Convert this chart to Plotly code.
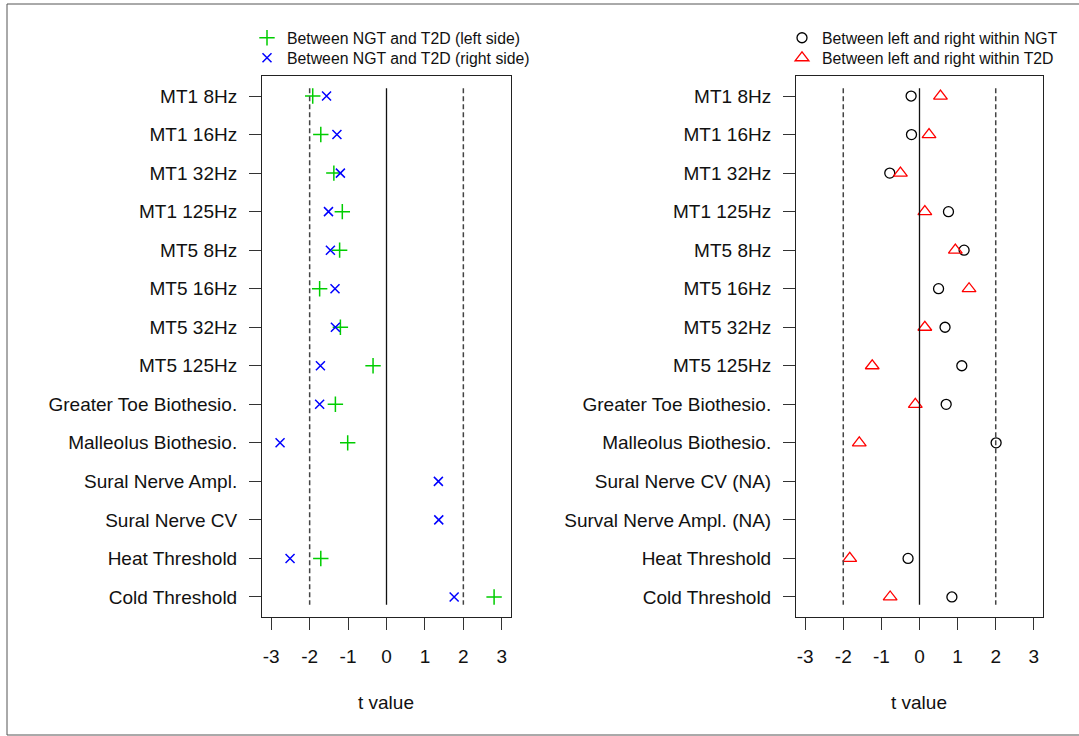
import plotly.graph_objects as go

W, H = 1079, 736

labels_left = ["MT1 8Hz", "MT1 16Hz", "MT1 32Hz", "MT1 125Hz", "MT5 8Hz", "MT5 16Hz",
               "MT5 32Hz", "MT5 125Hz", "Greater Toe Biothesio.", "Malleolus Biothesio.",
               "Sural Nerve Ampl.", "Sural Nerve CV", "Heat Threshold", "Cold Threshold"]
labels_right = ["MT1 8Hz", "MT1 16Hz", "MT1 32Hz", "MT1 125Hz", "MT5 8Hz", "MT5 16Hz",
                "MT5 32Hz", "MT5 125Hz", "Greater Toe Biothesio.", "Malleolus Biothesio.",
                "Sural Nerve CV (NA)", "Surval Nerve Ampl. (NA)", "Heat Threshold", "Cold Threshold"]

t_left_side = [-1.92, -1.71, -1.37, -1.15, -1.22, -1.74, -1.20, -0.35, -1.33, -1.01,
               None, None, -1.71, 2.80]
t_right_side = [-1.56, -1.29, -1.20, -1.51, -1.46, -1.34, -1.33, -1.72, -1.74, -2.77,
                1.35, 1.36, -2.51, 1.76]
t_within_ngt = [-0.22, -0.21, -0.78, 0.76, 1.17, 0.50, 0.67, 1.11, 0.70, 2.01,
                None, None, -0.30, 0.85]
t_within_t2d = [0.55, 0.25, -0.50, 0.14, 0.94, 1.30, 0.14, -1.24, -0.11, -1.58,
                None, None, -1.83, -0.77]

x_ticks = [-3, -2, -1, 0, 1, 2, 3]
x_tick_text = ["-3", "-2", "-1", "0", "1", "2", "3"]
ref_dashed = [-2, 2]
ref_solid = [0]

FONT = "Liberation Sans, Arial, sans-serif"

def px_x(p):
    return p / W

def px_y(p):
    return 1 - p / H

fig = go.Figure()

idx = list(range(len(labels_left)))

fig.add_trace(go.Scatter(x=t_left_side, y=idx, mode="markers", name="Between NGT and T2D (left side)",
                         marker=dict(symbol="cross-thin-open", size=11, color="#00CD00",
                                     line=dict(width=1.5, color="#00CD00")),
                         xaxis="x", yaxis="y", legend="legend"))
fig.add_trace(go.Scatter(x=t_right_side, y=idx, mode="markers", name="Between NGT and T2D (right side)",
                         marker=dict(symbol="x-thin-open", size=9, color="#0000FF",
                                     line=dict(width=1.5, color="#0000FF")),
                         xaxis="x", yaxis="y", legend="legend2"))
fig.add_trace(go.Scatter(x=t_within_ngt, y=idx, mode="markers", name="Between left and right within NGT",
                         marker=dict(symbol="circle-open", size=10, color="#000000",
                                     line=dict(width=1.3, color="#000000")),
                         xaxis="x2", yaxis="y2", legend="legend3"))
fig.add_trace(go.Scatter(x=t_within_t2d, y=idx, mode="markers", name="Between left and right within T2D",
                         marker=dict(symbol="triangle-up-open", size=12, color="#FF0000",
                                     line=dict(width=1.3, color="#FF0000")),
                         xaxis="x2", yaxis="y2", legend="legend4"))

n = len(labels_left)
yr = [n - 1 + 0.52, -0.52]
xr = [-3.24, 3.24]

axis_common = dict(showline=True, mirror=True, linecolor="#222", linewidth=1,
                   showgrid=False, zeroline=False, ticks="outside", ticklen=12,
                   tickcolor="#333", tickwidth=1,
                   tickfont=dict(family=FONT, size=19, color="#111"))

def leg(xp, yp):
    return dict(x=px_x(xp), y=px_y(yp), xanchor="left", yanchor="middle",
                font=dict(family=FONT, size=15.8, color="#111"), bgcolor="rgba(0,0,0,0)",
                itemwidth=30, borderwidth=0)

fig.update_layout(
    width=W, height=H, autosize=False,
    margin=dict(l=0, r=0, t=0, b=0),
    paper_bgcolor="white", plot_bgcolor="white",
    showlegend=True,
    xaxis=dict(domain=[px_x(262), px_x(511)], range=xr, tickvals=x_ticks, ticktext=x_tick_text,
               anchor="y", ticklabelstandoff=10, **axis_common),
    yaxis=dict(domain=[px_y(617), px_y(76)], range=yr, tickvals=idx, ticktext=labels_left,
               anchor="x", ticklabelstandoff=8, **axis_common),
    xaxis2=dict(domain=[px_x(796), px_x(1043)], range=xr, tickvals=x_ticks, ticktext=x_tick_text,
                anchor="y2", ticklabelstandoff=10, **axis_common),
    yaxis2=dict(domain=[px_y(617), px_y(76)], range=yr, tickvals=idx, ticktext=labels_right,
                anchor="x2", ticklabelstandoff=8, **axis_common),
    legend=leg(247, 38),
    legend2=leg(247, 58),
    legend3=leg(782, 38),
    legend4=leg(782, 58),
)

shapes = []
for xa, ya in (("x", "y"), ("x2", "y2")):
    for v in ref_dashed:
        shapes.append(dict(type="line", xref=xa, yref=ya, x0=v, x1=v, y0=-0.2, y1=n - 1 + 0.2,
                           line=dict(color="#444", width=1.5, dash="5px,3px")))
    for v in ref_solid:
        shapes.append(dict(type="line", xref=xa, yref=ya, x0=v, x1=v, y0=-0.2, y1=n - 1 + 0.2,
                           line=dict(color="#111", width=1.3)))
# outer frame
shapes.append(dict(type="rect", xref="paper", yref="paper", x0=px_x(7), x1=px_x(1090),
                   y0=px_y(735), y1=px_y(4), line=dict(color="#555", width=1)))
fig.update_layout(shapes=shapes)

for cx in (386, 919):
    fig.add_annotation(text="t value", xref="paper", yref="paper", x=px_x(cx), y=px_y(702),
                       xanchor="center", yanchor="middle", showarrow=False,
                       font=dict(family=FONT, size=19, color="#111"))

fig.write_html("out.html", config={"displayModeBar": False},
               post_script="document.body.style.margin='0';document.body.style.overflow='hidden';")
